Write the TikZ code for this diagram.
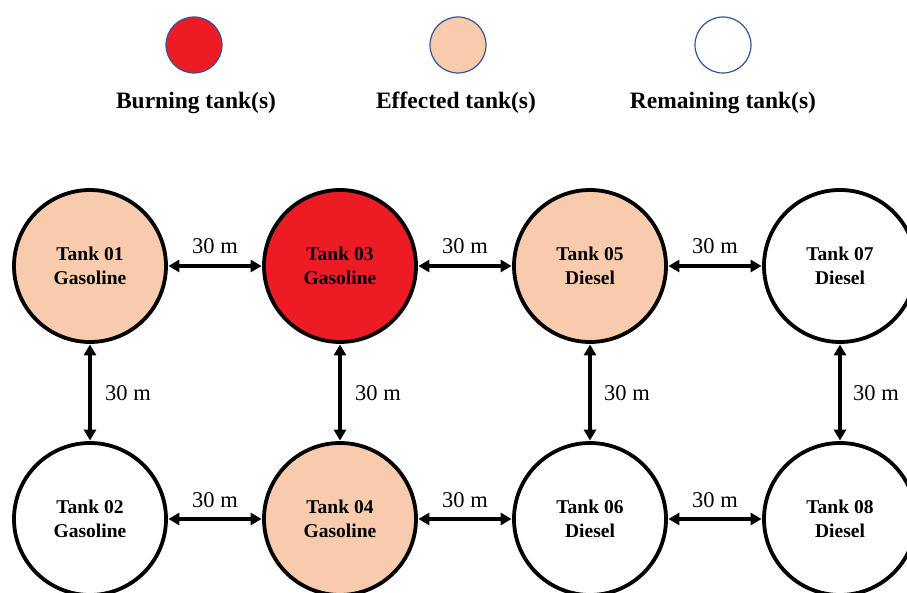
\documentclass[tikz,border=0pt]{standalone}
\usepackage{fontspec}
\setmainfont{Liberation Serif}
\usetikzlibrary{arrows.meta}
\definecolor{burn}{HTML}{ED1C24}
\definecolor{eff}{HTML}{F8CBAD}
\definecolor{legedge}{HTML}{2F5597}
\begin{document}
\begin{tikzpicture}[x=1pt,y=-1pt,
  tank/.style={circle,draw=black,line width=3.8pt,minimum size=152pt,inner sep=0pt,align=center,
    font=\fontsize{19.5}{23.5}\selectfont\bfseries},
  legc/.style={circle,draw=legedge,line width=1.2pt,minimum size=56pt,inner sep=0pt},
  legt/.style={font=\fontsize{23.5}{26}\selectfont\bfseries},
  dist/.style={font=\fontsize{22.5}{26}\selectfont},
  conn/.style={line width=3.4pt,{Triangle[width=12pt,length=11pt]}-{Triangle[width=12pt,length=11pt]},shorten <=0.5pt,shorten >=0.5pt}]
\useasboundingbox (0,0) rectangle (907,593);
% legend
\node[legc,fill=burn] (lb) at (194,45) {};
\node[legc,fill=eff] (le) at (458,45) {};
\node[legc,fill=white] (lr) at (723,45) {};
\node[legt] (lbt) at (196,103) {Burning tank(s)};
\node[legt] (let) at (456,103) {Effected tank(s)};
\node[legt] (lrt) at (723,103) {Remaining tank(s)};
% tanks
\node[tank,fill=eff] (t1) at (90,266) {Tank 01\\Gasoline};
\node[tank,fill=burn] (t3) at (340,266) {Tank 03\\Gasoline};
\node[tank,fill=eff] (t5) at (590,266) {Tank 05\\Diesel};
\node[tank,fill=white] (t7) at (840,266) {Tank 07\\Diesel};
\node[tank,fill=white] (t2) at (90,519) {Tank 02\\Gasoline};
\node[tank,fill=eff] (t4) at (340,519) {Tank 04\\Gasoline};
\node[tank,fill=white] (t6) at (590,519) {Tank 06\\Diesel};
\node[tank,fill=white] (t8) at (840,519) {Tank 08\\Diesel};
% connectors
\draw[conn] (t1) -- (t3);
\draw[conn] (t3) -- (t5);
\draw[conn] (t5) -- (t7);
\draw[conn] (t2) -- (t4);
\draw[conn] (t4) -- (t6);
\draw[conn] (t6) -- (t8);
\draw[conn] (t1) -- (t2);
\draw[conn] (t3) -- (t4);
\draw[conn] (t5) -- (t6);
\draw[conn] (t7) -- (t8);
% labels
\node[dist] (h1) at (215,246) {30 m};
\node[dist] (h2) at (465,246) {30 m};
\node[dist] (h3) at (715,246) {30 m};
\node[dist] (h4) at (215,500) {30 m};
\node[dist] (h5) at (465,500) {30 m};
\node[dist] (h6) at (715,500) {30 m};
\node[dist] (v1) at (128,393) {30 m};
\node[dist] (v2) at (378,393) {30 m};
\node[dist] (v3) at (627,393) {30 m};
\node[dist] (v4) at (876,393) {30 m};
\end{tikzpicture}
\end{document}
